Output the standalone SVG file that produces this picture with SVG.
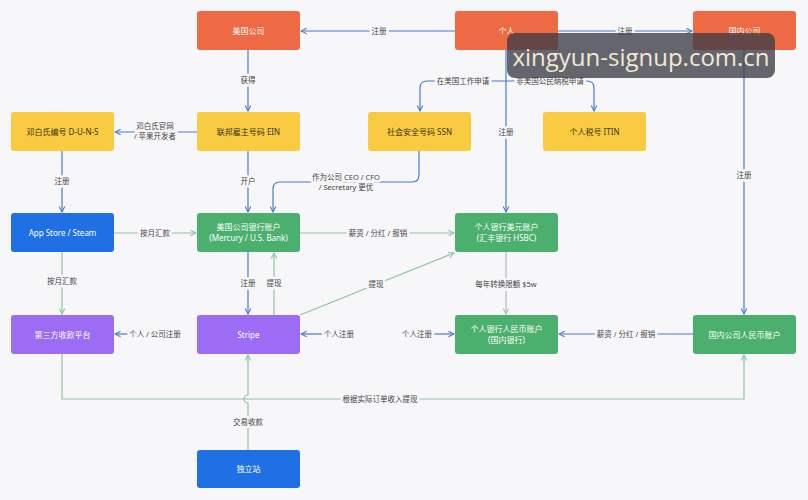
<svg xmlns="http://www.w3.org/2000/svg" width="808" height="500" viewBox="0 0 808 500">
<style>
.n rect{rx:3;ry:3}
.red{fill:#EE6A45}.yel{fill:#F8CB40}.blu{fill:#1F6FE5}.grn{fill:#4BB06D}.pur{fill:#9C6CF5}
.nt{font-family:'Noto Sans','Noto Sans CJK SC',sans-serif;font-size:8px;fill:#fff;text-anchor:middle}
.yt{fill:#3a3320}
.lb{font-family:'Noto Sans','Noto Sans CJK SC',sans-serif;font-size:7.5px;fill:#444;text-anchor:middle;paint-order:stroke;stroke:#F7F7FA;stroke-width:5px;stroke-linejoin:round}
.cb{fill:none;stroke:#4A7BC8;stroke-width:1.2}
.cg{fill:none;stroke:#8CC5A2;stroke-width:1.2}
.cgr{fill:none;stroke:#A9BDB0;stroke-width:1.2}
</style>
<defs>
<marker id="ab" viewBox="0 0 10 10" refX="9" refY="5" markerWidth="7" markerHeight="7" markerUnits="userSpaceOnUse" orient="auto"><path d="M1,1 L9,5 L1,9" fill="none" stroke="#4A7BC8" stroke-width="1.5"/></marker>
<marker id="ag" viewBox="0 0 10 10" refX="9" refY="5" markerWidth="7" markerHeight="7" markerUnits="userSpaceOnUse" orient="auto"><path d="M1,1 L9,5 L1,9" fill="none" stroke="#8CC5A2" stroke-width="1.5"/></marker>
<marker id="agr" viewBox="0 0 10 10" refX="9" refY="5" markerWidth="7" markerHeight="7" markerUnits="userSpaceOnUse" orient="auto"><path d="M1,1 L9,5 L1,9" fill="none" stroke="#A9BDB0" stroke-width="1.5"/></marker>
</defs>
<rect width="808" height="500" fill="#F7F7FA"/>
<g id="connectors">
<path class="cb" d="M455,31 H301" marker-end="url(#ab)"/>
<path class="cb" d="M558,31 H692" marker-end="url(#ab)"/>
<path class="cb" d="M248,50 V111" marker-end="url(#ab)"/>
<path class="cb" d="M197,132 H115" marker-end="url(#ab)"/>
<path class="cb" d="M506,81 H427 Q420,81 420,88 V111" marker-end="url(#ab)"/>
<path class="cb" d="M506,81 H587 Q594,81 594,88 V111" marker-end="url(#ab)"/>
<path class="cb" d="M506,50 V212" marker-end="url(#ab)"/>
<path class="cb" d="M744,50 V314" marker-end="url(#ab)"/>
<path class="cb" d="M62,151 V212" marker-end="url(#ab)"/>
<path class="cb" d="M248,151 V212" marker-end="url(#ab)"/>
<path class="cb" d="M419,151 V175 Q419,182 412,182 H280 Q273,182 273,189 V212" marker-end="url(#ab)"/>
<path class="cb" d="M248,252 V314" marker-end="url(#ab)"/>
<path class="cb" d="M323,334 H301" marker-end="url(#ab)"/>
<path class="cb" d="M131,334 H115" marker-end="url(#ab)"/>
<path class="cb" d="M432,334 H454" marker-end="url(#ab)"/>
<path class="cb" d="M693,334 H559" marker-end="url(#ab)"/>
<path class="cg" d="M114,233 H196" marker-end="url(#ag)"/>
<path class="cg" d="M62,252 V314" marker-end="url(#ag)"/>
<path class="cg" d="M300,233 H454" marker-end="url(#ag)"/>
<path class="cg" d="M274,315 V253" marker-end="url(#ag)"/>
<path class="cg" d="M300,315 L454,253" marker-end="url(#ag)"/>
<path class="cgr" d="M506,252 V314" marker-end="url(#agr)"/>
<path class="cg" d="M62,354 V399 H744 V355" marker-end="url(#ag)"/>
<path class="cg" d="M248,450 V403 A4,4 0 0 1 248,395 V355" marker-end="url(#ag)"/>
<text class="lb" x="379" y="34">注册</text>
<text class="lb" x="625" y="34">注册</text>
<text class="lb" x="248" y="83">获得</text>
<text class="lb" x="155" y="129">邓白氏官网</text>
<text class="lb" x="155" y="139">/ 苹果开发者</text>
<text class="lb" x="463" y="84">在美国工作申请</text>
<text class="lb" x="550" y="84">非美国公民纳税申请</text>
<text class="lb" x="506" y="135">注册</text>
<text class="lb" x="744" y="178">注册</text>
<text class="lb" x="62" y="184">注册</text>
<text class="lb" x="248" y="184">开户</text>
<text class="lb" x="346" y="180">作为公司 CEO / CFO</text>
<text class="lb" x="346" y="190">/ Secretary 更优</text>
<text class="lb" x="155" y="236">按月汇款</text>
<text class="lb" x="378" y="236">薪资 / 分红 / 报销</text>
<text class="lb" x="62" y="284">按月汇款</text>
<text class="lb" x="248" y="286">注册</text>
<text class="lb" x="274" y="286">提现</text>
<text class="lb" x="376" y="287">提现</text>
<text class="lb" x="506" y="287">每年转换限额 $5w</text>
<text class="lb" x="155" y="337">个人 / 公司注册</text>
<text class="lb" x="339" y="337">个人注册</text>
<text class="lb" x="417" y="337">个人注册</text>
<text class="lb" x="626" y="337">薪资 / 分红 / 报销</text>
<text class="lb" x="380" y="402">根据实际订单收入提现</text>
<text class="lb" x="248" y="425">交易收款</text>
</g>
<g id="n-uscompany" class="n"><rect class="red" x="197" y="11" width="103" height="39"/><text class="nt" x="248.5" y="33.5">美国公司</text></g>
<g id="n-person" class="n"><rect class="red" x="455" y="11" width="103" height="39"/><text class="nt" x="506.5" y="33.5">个人</text></g>
<g id="n-cncompany" class="n"><rect class="red" x="693" y="11" width="103" height="39"/><text class="nt" x="744.5" y="33.5">国内公司</text></g>
<g id="n-duns" class="n"><rect class="yel" x="11" y="112" width="103" height="39"/><text class="nt yt" x="62.5" y="134.5">邓白氏编号 D-U-N-S</text></g>
<g id="n-ein" class="n"><rect class="yel" x="197" y="112" width="103" height="39"/><text class="nt yt" x="248.5" y="134.5">联邦雇主号码 EIN</text></g>
<g id="n-ssn" class="n"><rect class="yel" x="368" y="112" width="103" height="39"/><text class="nt yt" x="419.5" y="134.5">社会安全号码 SSN</text></g>
<g id="n-itin" class="n"><rect class="yel" x="543" y="112" width="103" height="39"/><text class="nt yt" x="594.5" y="134.5">个人税号 ITIN</text></g>
<g id="n-appstore" class="n"><rect class="blu" x="11" y="213" width="103" height="39"/><text class="nt" x="62.5" y="235.5">App Store / Steam</text></g>
<g id="n-usbank" class="n"><rect class="grn" x="197" y="213" width="103" height="39"/><text class="nt" x="248.5" y="230">美国公司银行账户</text><text class="nt" x="248.5" y="241">(Mercury / U.S. Bank)</text></g>
<g id="n-hsbc" class="n"><rect class="grn" x="455" y="213" width="103" height="39"/><text class="nt" x="506.5" y="230">个人银行美元账户</text><text class="nt" x="506.5" y="241">(汇丰银行 HSBC)</text></g>
<g id="n-thirdparty" class="n"><rect class="pur" x="11" y="315" width="103" height="39"/><text class="nt" x="62.5" y="337.5">第三方收款平台</text></g>
<g id="n-stripe" class="n"><rect class="pur" x="197" y="315" width="103" height="39"/><text class="nt" x="248.5" y="337.5">Stripe</text></g>
<g id="n-rmbpersonal" class="n"><rect class="grn" x="455" y="315" width="103" height="39"/><text class="nt" x="506.5" y="332">个人银行人民币账户</text><text class="nt" x="506.5" y="343">(国内银行)</text></g>
<g id="n-rmbcompany" class="n"><rect class="grn" x="693" y="315" width="103" height="39"/><text class="nt" x="744.5" y="337.5">国内公司人民币账户</text></g>
<g id="n-site" class="n"><rect class="blu" x="197" y="450" width="103" height="38"/><text class="nt" x="248.5" y="472">独立站</text></g>
<g id="watermark"><rect x="507" y="33" width="268" height="45" rx="8" fill="#3C3C46" fill-opacity="0.78"/><text x="641" y="66" font-family="'Open Sans','Noto Sans',sans-serif" font-size="24" fill="#F2E8D5" text-anchor="middle">xingyun-signup.com.cn</text></g>
</svg>
